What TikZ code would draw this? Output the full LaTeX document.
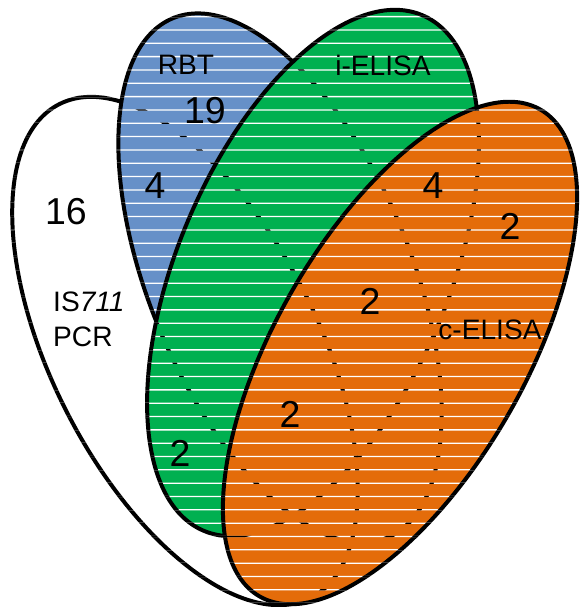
\documentclass[tikz,border=0pt]{standalone}
\usepackage{fontspec}
\setmainfont{Liberation Sans}
\definecolor{rbtblue}{HTML}{6690C8}
\definecolor{ielisagreen}{HTML}{00B050}
\definecolor{celisaorange}{HTML}{E46C0A}
\begin{document}
\begin{tikzpicture}[x=0.03cm,y=0.03cm,
    setline/.style={draw=black,line width=3.4pt},
    setname/.style={font=\fontsize{24}{30}\selectfont,inner sep=0pt},
    count/.style={font=\fontsize{32}{36}\selectfont,inner sep=0pt}]
    \useasboundingbox (0,0) rectangle (580,607);

    % the four sets, from bottom to top
    \foreach \cx/\cy/\ra/\rb/\ang/\col in {185/256/277/133/-63/white,
        280/329/281/131/-67.6/rbtblue,
        313/334/280/135.5/67/ielisagreen,
        400/254/281/124.5/60/celisaorange}
        \filldraw[setline,fill=\col,rotate around={\ang:(\cx,\cy)}] (\cx,\cy) ellipse [x radius=\ra, y radius=\rb];

    % thin see-through stripes
    \begin{scope}
        \clip \foreach \k in {0,...,45} {(0,{603.05-13.33*\k}) rectangle (580,{604.35-13.33*\k})};
        \fill[white] (0,0) rectangle (580,607);
        \foreach \cx/\cy/\ra/\rb/\ang in {185/256/277/133/-63,
            280/329/281/131/-67.6,
            313/334/280/135.5/67,
            400/254/281/124.5/60}
            \draw[setline,rotate around={\ang:(\cx,\cy)}] (\cx,\cy) ellipse [x radius=\ra, y radius=\rb];
    \end{scope}

    \node[setname] (rbt) at (186,542) {RBT};
    \node[setname] (ielisa) at (383,542) {i-ELISA};
    \node[setname] (celisa) at (490,277) {c-ELISA};
    \node[setname,anchor=west,align=left] (pcr) at (53,288) {IS\textit{711}\\PCR};

    \node[count] (n19) at (205,496) {19};
    \node[count] (n16) at (66,395) {16};
    \node[count] (n4a) at (155,421) {4};
    \node[count] (n4b) at (433,421) {4};
    \node[count] (n2a) at (510,381) {2};
    \node[count] (n2b) at (370,306) {2};
    \node[count] (n2c) at (290,193) {2};
    \node[count] (n2d) at (180,154) {2};
\end{tikzpicture}
\end{document}
